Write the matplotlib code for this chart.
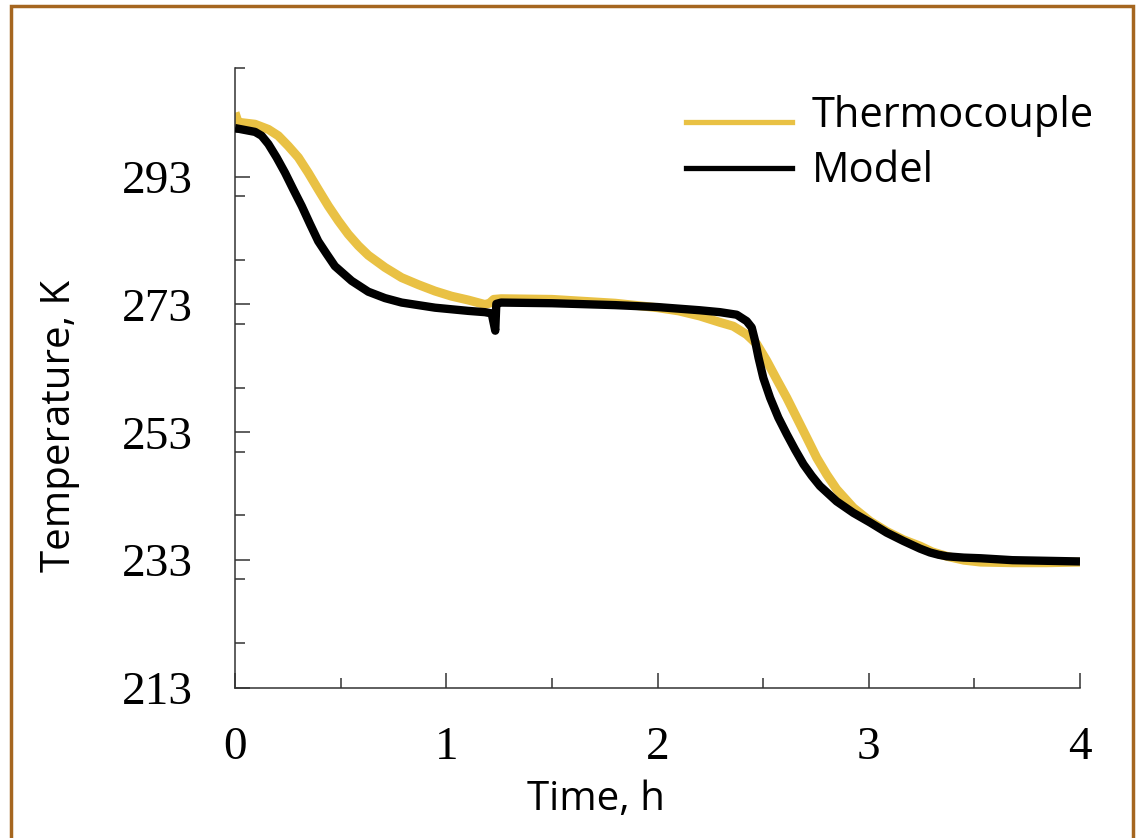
import numpy as np
import matplotlib.pyplot as plt
from matplotlib.lines import Line2D
from matplotlib.patches import Rectangle
from matplotlib.ticker import MultipleLocator

# thermocouple measurement (time in h, temperature in K)
tc_time = [0, 0.015, 0.032, 0.095, 0.158, 0.205, 0.252, 0.300, 0.347, 0.394,
           0.442, 0.489, 0.536, 0.584, 0.631, 0.710, 0.789, 0.868, 0.947, 1.025,
           1.104, 1.183, 1.205, 1.225, 1.26, 1.5, 1.8, 2.0, 2.1, 2.2, 2.296,
           2.359, 2.422, 2.470, 2.517, 2.564, 2.612, 2.659, 2.706, 2.754, 2.801,
           2.848, 2.927, 3.006, 3.085, 3.164, 3.243, 3.30, 3.37, 3.45, 3.53, 3.68,
           3.84, 4.0]
tc_temp = [303.0, 301.5, 301.45, 301.2, 300.4, 299.4, 297.8, 296.0, 293.6, 291.0,
           288.4, 286.1, 284.0, 282.2, 280.7, 278.8, 277.2, 276.1, 275.1, 274.3,
           273.7, 273.0, 273.2, 273.8, 273.9, 273.8, 273.2, 272.5, 272.0, 271.2, 270.2,
           269.6, 268.3, 266.8, 264.2, 261.3, 258.4, 255.3, 252.2, 249.0, 246.4,
           244.1, 241.2, 239.1, 237.5, 236.2, 235.2, 234.3, 233.6, 233.0, 232.7, 232.6,
           232.6, 232.7]

# model prediction
model_time = [0, 0.095, 0.126, 0.158, 0.197, 0.237, 0.276, 0.316, 0.355, 0.394,
              0.434, 0.473, 0.552, 0.631, 0.710, 0.789, 0.947, 1.104, 1.183, 1.215,
              1.232, 1.237, 1.26, 1.5, 1.8, 2.0, 2.2, 2.296, 2.375, 2.422, 2.446,
              2.462, 2.478, 2.501, 2.533, 2.572, 2.612, 2.651, 2.691, 2.730, 2.769,
              2.848, 2.927, 3.006, 3.085, 3.164, 3.243, 3.29, 3.33, 3.37, 3.45,
              3.53, 3.68, 3.84, 4.0]
model_temp = [300.6, 300.0, 299.4, 298.1, 296.0, 293.6, 291.0, 288.4, 285.6, 282.9,
              280.9, 279.0, 276.7, 275.0, 274.0, 273.3, 272.5, 272.0, 271.8, 271.6,
              268.9, 273.1, 273.3, 273.2, 272.9, 272.6, 272.1, 271.8, 271.4, 270.4, 269.4,
              267.3, 264.7, 261.5, 258.4, 255.3, 252.7, 250.3, 248.0, 246.2, 244.6,
              242.2, 240.4, 238.9, 237.3, 236.0, 234.8, 234.2, 233.85, 233.6, 233.4,
              233.3, 233.0, 232.9, 232.8]

x_ticks = [0, 1, 2, 3, 4]
y_ticks = [213, 233, 253, 273, 293]
series_names = ['Thermocouple', 'Model']

yellow = '#E9C144'
sans = 'Open Sans'
serif = 'Liberation Serif'

fig = plt.figure(figsize=(11.36, 8.38), dpi=100)
ax = fig.add_axes([235 / 1136, 1 - 688 / 838, 845 / 1136, 620 / 838])

ax.plot(tc_time, tc_temp, color=yellow, lw=6.5, solid_capstyle='butt',
        solid_joinstyle='round', zorder=2)
ax.plot(model_time, model_temp, color='black', lw=6, solid_capstyle='butt',
        solid_joinstyle='round', zorder=3)

ax.set_xlim(0, 4)
ax.set_ylim(213, 310)
ax.set_xticks(x_ticks)
ax.set_yticks(y_ticks)
ax.xaxis.set_minor_locator(MultipleLocator(0.5))
ax.yaxis.set_minor_locator(MultipleLocator(10))
ax.tick_params(which='both', direction='in', width=1.1, color='#333333')
ax.tick_params(which='major', length=11, labelsize=34)
ax.tick_params(axis='y', which='major', pad=30)
ax.tick_params(axis='x', which='major', pad=28)
ax.tick_params(which='minor', length=7)
for lab in ax.get_xticklabels() + ax.get_yticklabels():
    lab.set_fontfamily(serif)

for side in ['top', 'right']:
    ax.spines[side].set_visible(False)
for side in ['left', 'bottom']:
    ax.spines[side].set_linewidth(1.1)
    ax.spines[side].set_color('#333333')

fig.text(596 / 1136, 1 - 800 / 838, 'Time, h', ha='center', va='center',
         fontsize=29, family=sans)
fig.text(60 / 1136, 1 - 426 / 838, 'Temperature, K', ha='center', va='center',
         rotation=90, fontsize=29, family=sans)

# legend drawn by hand: sample lines and labels sit slightly offset, as in the source
for name, color, line_y, text_y in [(series_names[0], yellow, 122, 127),
                                    (series_names[1], 'black', 168, 182)]:
    fig.add_artist(Line2D([686 / 1136, 792 / 1136], [1 - line_y / 838] * 2,
                          transform=fig.transFigure, color=color, lw=3.8))
    fig.text(812 / 1136, 1 - text_y / 838, name, ha='left', va='baseline',
             fontsize=30, family=sans)

fig.patches.append(Rectangle((11 / 1136, -0.05), 1122 / 1136, 1.05 - 6 / 838,
                             transform=fig.transFigure, fill=False,
                             edgecolor='#A5661F', lw=2.5))

fig.savefig('out.png', dpi=100)
